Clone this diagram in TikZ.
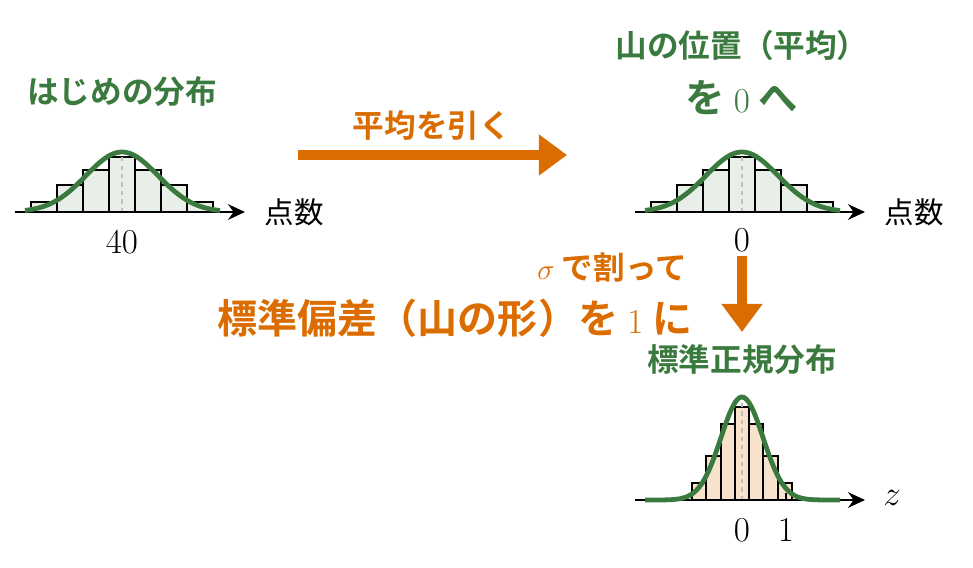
\documentclass[tikz,border=0pt]{standalone}
\usepackage{fontspec}
\newfontfamily\cjk{Noto Sans CJK JP}
\newfontfamily\cjkb{Noto Sans CJK JP Bold}
\usetikzlibrary{positioning,arrows.meta}
\definecolor{mygreen}{RGB}{58,122,62}
\definecolor{myorange}{RGB}{218,108,0}
\tikzset{
  bar/.style={draw=black,line width=1.4pt},
  curve/.style={mygreen,line width=3.4pt},
  axis/.style={-{Stealth[length=12pt,width=11pt]},line width=2pt},
  mid/.style={gray!50,dashed,line width=1.2pt},
  gtitle/.style={text=mygreen,font=\cjkb\fontsize{22.5}{26}\selectfont},
  otitle/.style={text=myorange,font=\cjkb\fontsize{22.5}{26}\selectfont},
  big/.style={font=\cjkb\fontsize{28.5}{32}\selectfont},
  lbl/.style={font=\fontsize{28}{32}\selectfont},
  stepar/.style={myorange,line width=6.5pt,-{Triangle[length=20pt,width=28pt]}}
}
\begin{document}
\begin{tikzpicture}[x=0.025cm,y=-0.025cm]
\useasboundingbox (0,0) rectangle (973,567);

% start distribution
\foreach \i/\h in {-3/10,-2/27,-1/42,0/55,1/42,2/27,3/10}
  \draw[bar,fill=mygreen!12] ({122+26*\i-13},212) rectangle ({122+26*\i+13},{212-\h});
\draw[mid] (122,212) -- (122,150);
\draw[axis] (15,212) -- (245,212);
\draw[curve,domain=25:220,samples=80] plot (\x,{212-60*exp(-((\x-122)/36)^2/2)});
\node[lbl] (n40) at (122,242) {$40$};
\node[font=\cjk\fontsize{21}{24}\selectfont] (pts1) at (294,212) {点数};
\node[gtitle] (t1) at (122,92) {はじめの分布};

% shifted distribution
\foreach \i/\h in {-3/10,-2/27,-1/42,0/55,1/42,2/27,3/10}
  \draw[bar,fill=mygreen!12] ({742+26*\i-13},212) rectangle ({742+26*\i+13},{212-\h});
\draw[mid] (742,212) -- (742,150);
\draw[axis] (635,212) -- (865,212);
\draw[curve,domain=645:840,samples=80] plot (\x,{212-60*exp(-((\x-742)/36)^2/2)});
\node[lbl] (n0) at (742,240) {$0$};
\node[font=\cjk\fontsize{21}{24}\selectfont] (pts2) at (914,212) {点数};
\node[gtitle] (t2) at (742,45) {山の位置（平均）};
\node[text=mygreen,font=\cjkb\fontsize{28}{32}\selectfont] (t3) at (742,98) {を $0$ へ};

% standard normal
\foreach \i/\h in {-3/17,-2/44,-1/76,0/93,1/76,2/44,3/17}
  \draw[bar,fill=myorange!20] ({742+14.3*\i-7.15},500) rectangle ({742+14.3*\i+7.15},{500-\h});
\draw[mid] (742,500) -- (742,398);
\draw[line width=1.4pt] (786,500) -- (786,493);
\draw[axis] (635,500) -- (865,500);
\draw[curve,domain=645:840,samples=100] plot (\x,{500-103*exp(-((\x-742)/21)^2/2)});
\node[lbl] (z0) at (742,530) {$0$};
\node[lbl] (z1) at (786,530) {$1$};
\node[lbl] (zl) at (892,498) {$z$};
\node[gtitle] (t4) at (742,360) {標準正規分布};

% steps
\coordinate (a1) at (298,155);
\coordinate (a2) at (567,155);
\draw[stepar] (a1) -- (a2);
\node[otitle] (s1) at (432,125) {平均を引く};
\coordinate (b1) at (742,256);
\coordinate (b2) at (742,332);
\draw[stepar] (b1) -- (b2);
\node[otitle] (s2) at (612,268) {$\sigma$ で割って};
\node[text=myorange,big] (s3) at (455,318) {標準偏差（山の形）を $1$ に};
\end{tikzpicture}
\end{document}
